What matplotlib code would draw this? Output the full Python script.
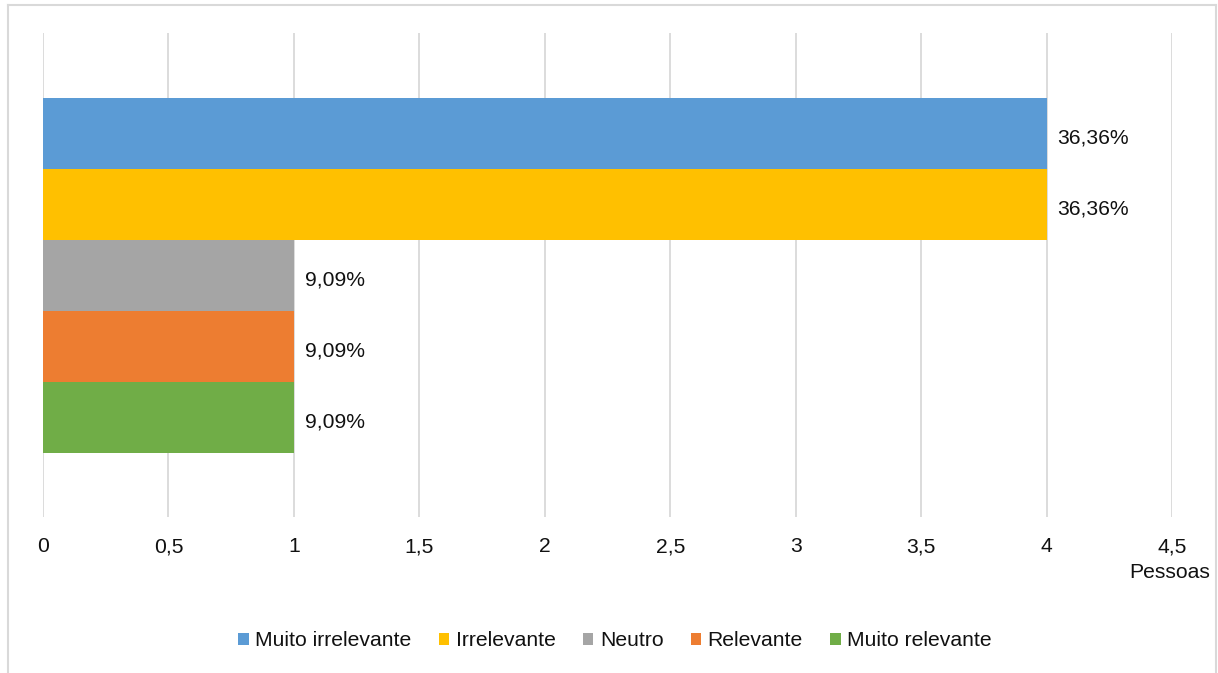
import matplotlib
matplotlib.use("Agg")
import matplotlib.pyplot as plt
from matplotlib.patches import Patch
from matplotlib.lines import Line2D

# Answer categories and number of people per answer
categories = ["Muito irrelevante", "Irrelevante", "Neutro", "Relevante", "Muito relevante"]
pessoas = [4, 4, 1, 1, 1]
colors = ["#5b9bd5", "#ffc000", "#a5a5a5", "#ed7d31", "#70ad47"]
x_ticks = [0, 0.5, 1, 1.5, 2, 2.5, 3, 3.5, 4, 4.5]
x_tick_labels = ["0", "0,5", "1", "1,5", "2", "2,5", "3", "3,5", "4", "4,5"]
x_axis_title = "Pessoas"

plt.rcParams["font.family"] = ["Liberation Sans", "DejaVu Sans"]
FS = 15.2
TXT = "#111111"

W, H = 1218, 673
fig = plt.figure(figsize=(W / 100, H / 100), dpi=100)

# axes box in pixel units -> figure fractions
left_px, right_px, top_px, bottom_px = 43, 1172, 33, 517
ax = fig.add_axes([left_px / W, 1 - bottom_px / H,
                   (right_px - left_px) / W, (bottom_px - top_px) / H])

total = sum(pessoas)
ypos = list(range(len(categories)))
bar_h = 1.0
for y, v, c in zip(ypos, pessoas, colors):
    ax.barh(y, v, height=bar_h, color=c, zorder=2)
    pct = f"{v / total * 100:.2f}".replace(".", ",") + "%"
    ax.annotate(pct, xy=(v, y), xytext=(8, -3), textcoords="offset points",
                ha="left", va="center", fontsize=FS, color=TXT)

ax.set_xlim(0, 4.5)
# each bar is 71 px tall; span of axes is 484 px
units = (bottom_px - top_px) / 71.0
top_off = (133.5 - top_px) / 71.0
ax.set_ylim(units - top_off, -top_off)

ax.set_xticks(x_ticks)
ax.set_xticklabels(x_tick_labels, fontsize=FS, color=TXT, va="baseline")
ax.tick_params(axis="x", length=0, pad=25.5)
ax.set_yticks([])
for s in ax.spines.values():
    s.set_visible(False)
ax.grid(axis="x", color="#d9d9d9", linewidth=1.3, zorder=0)

fig.text(1210 / W, 1 - 572 / H, x_axis_title, ha="right", va="center",
         fontsize=FS, color=TXT)

handles = [Patch(facecolor=c, edgecolor="none") for c in colors]
fig.legend(handles, categories, loc="center", bbox_to_anchor=(615 / W, 1 - 641 / H),
           ncol=5, frameon=False, fontsize=FS, handlelength=0.5, handleheight=0.5,
           handletextpad=0.3, columnspacing=1.3, borderaxespad=0, labelcolor=TXT)

# outer chart frame
frame_kw = dict(color="#d9d9d9", linewidth=1.5, transform=fig.transFigure)
fig.add_artist(Line2D([8 / W, 8 / W], [0, 1 - 5 / H], **frame_kw))
fig.add_artist(Line2D([8 / W, 1216 / W], [1 - 5 / H, 1 - 5 / H], **frame_kw))
fig.add_artist(Line2D([1216 / W, 1216 / W], [0, 1 - 5 / H], **frame_kw))

fig.savefig("out.png", dpi=100)
